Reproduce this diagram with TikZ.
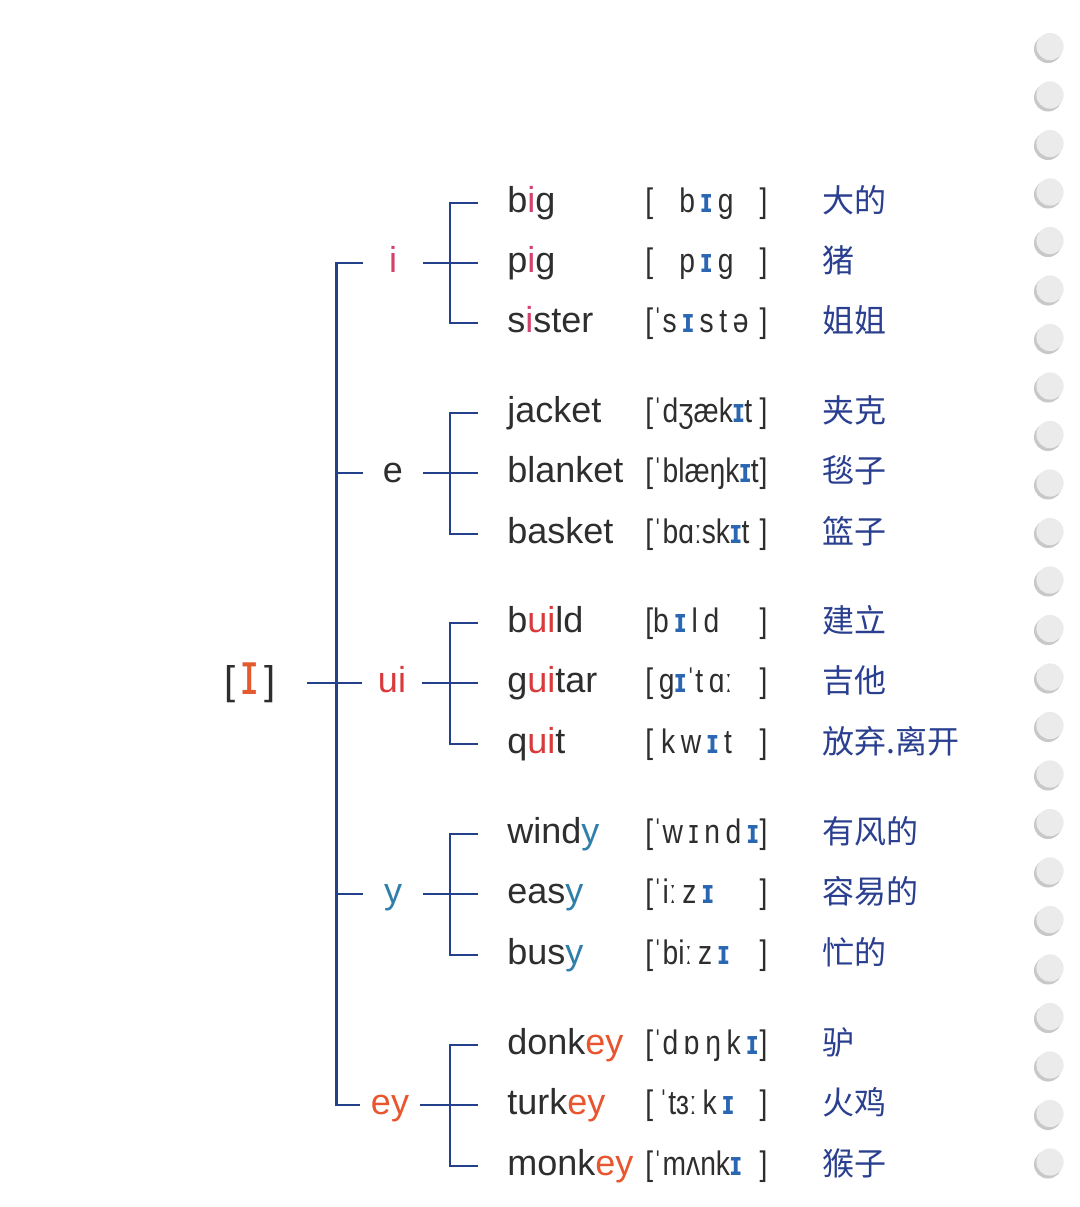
\documentclass[tikz,border=0pt]{standalone}
\usepackage{fontspec}
\setmainfont{Liberation Sans}
\newfontfamily\hanfont{Noto Sans CJK SC}
\newfontfamily\ipafont[FakeStretch=0.83]{Liberation Sans}
\usetikzlibrary{positioning}
\definecolor{TreeNavy}{HTML}{23408A}
\definecolor{Ink}{HTML}{2E2E2E}
\definecolor{SpellPink}{HTML}{D4416C}
\definecolor{SpellRed}{HTML}{D93A3C}
\definecolor{SpellTeal}{HTML}{2F7FAA}
\definecolor{SpellOrange}{HTML}{E8552E}
\definecolor{RootOrange}{HTML}{E35A2E}
\definecolor{VowBlue}{HTML}{2A66B2}
\definecolor{HanNavy}{HTML}{2A3F8F}
\definecolor{HoleGray}{HTML}{EBEBEB}
\definecolor{HoleShade}{HTML}{C8C8C8}
\newcommand\tint[2]{\textcolor{#1}{#2}}
\newcommand\vow{\textcolor{VowBlue}{\bfseries ɪ}}
\newcommand\ipabox[1]{\hbox to 61pt{[#1\hfil]}}

\begin{document}
\begin{tikzpicture}[x=0.5pt,y=-0.5pt,
    tree/.style={draw=TreeNavy,line width=1.2pt},
    sound/.style={minimum width=30pt,inner sep=0pt,font=\fontsize{18}{20}\selectfont,text height=13pt,text depth=4pt},
    word/.style={anchor=west,inner xsep=14.5pt,inner ysep=0pt,text=Ink,font=\fontsize{18}{20}\selectfont,text height=13pt,text depth=4pt},
    ipa/.style={anchor=west,inner sep=0pt,text=Ink,font=\ipafont\fontsize{17}{20}\selectfont,text height=12pt,text depth=3pt},
    han/.style={anchor=west,inner sep=0pt,text=HanNavy,font=\hanfont\fontsize{16}{18}\selectfont,text height=12pt,text depth=3pt}
  ]
  \fill[white] (0,0) rectangle (1080,1207);
  \useasboundingbox (0,0) rectangle (1080,1207);

  % notebook holes
  \foreach \k in {0,...,23}{
    \fill[HoleShade] (1048,49+48.5*\k) circle (7pt);
    \fill[HoleGray] (1050,46.5+48.5*\k) circle (6.8pt);
  }

  % root and sounds
  \node[minimum width=57pt,inner sep=0pt,text=Ink,font=\fontsize{20}{22}\selectfont] (root) at (250,683)
    {[\,\textcolor{RootOrange}{\scalebox{1.15}[1.5]{ɪ}}\,]};
  \node[sound,text=SpellPink] (sI) at (393,263) {i};
  \node[sound,text=Ink] (sE) at (393,473) {e};
  \node[sound,text=SpellRed] (sUI) at (392,683) {ui};
  \node[sound,text=SpellTeal] (sY) at (393,894) {y};
  \node[sound,text=SpellOrange] (sEY) at (390,1105) {ey};

  % group i
  \node[word] (big) at (478,203) {b\tint{SpellPink}{i}g};
  \node[ipa] (big-ipa) at (645,203) {\ipabox{\hfil b\,\vow\,g}};
  \node[han] (big-cn) at (822,203) {大的};
  \node[word] (pig) at (478,263) {p\tint{SpellPink}{i}g};
  \node[ipa] (pig-ipa) at (645,263) {\ipabox{\hfil p\,\vow\,g}};
  \node[han] (pig-cn) at (822,263) {猪};
  \node[word] (sister) at (478,323) {s\tint{SpellPink}{i}ster};
  \node[ipa] (sister-ipa) at (645,323) {\ipabox{ˈs\,\vow\,s\,t\,ə}};
  \node[han] (sister-cn) at (822,323) {姐姐};

  % group e
  \node[word] (jacket) at (478,413) {jacket};
  \node[ipa] (jacket-ipa) at (645,413) {\ipabox{ˈdʒæk\vow t}};
  \node[han] (jacket-cn) at (822,413) {夹克};
  \node[word] (blanket) at (478,473) {blanket};
  \node[ipa] (blanket-ipa) at (645,473) {\ipabox{ˈblæŋk\vow t}};
  \node[han] (blanket-cn) at (822,473) {毯子};
  \node[word] (basket) at (478,534) {basket};
  \node[ipa] (basket-ipa) at (645,534) {\ipabox{ˈbɑːsk\vow t}};
  \node[han] (basket-cn) at (822,534) {篮子};

  % group ui
  \node[word] (build) at (478,623) {b\tint{SpellRed}{ui}ld};
  \node[ipa] (build-ipa) at (645,623) {\ipabox{b\,\vow\,l\,d}};
  \node[han] (build-cn) at (822,623) {建立};
  \node[word] (guitar) at (478,683) {g\tint{SpellRed}{ui}tar};
  \node[ipa] (guitar-ipa) at (645,683) {\ipabox{\,g\vow ˈt\,ɑː}};
  \node[han] (guitar-cn) at (822,683) {吉他};
  \node[word] (quit) at (478,744) {q\tint{SpellRed}{ui}t};
  \node[ipa] (quit-ipa) at (645,744) {\ipabox{\ k\,w\,\vow\,t}};
  \node[han] (quit-cn) at (822,744) {放弃.离开};

  % group y
  \node[word] (windy) at (478,834) {wind\tint{SpellTeal}{y}};
  \node[ipa] (windy-ipa) at (645,834) {\ipabox{ˈw\,ɪ\,n\,d\,\vow}};
  \node[han] (windy-cn) at (822,834) {有风的};
  \node[word] (easy) at (478,894) {eas\tint{SpellTeal}{y}};
  \node[ipa] (easy-ipa) at (645,894) {\ipabox{ˈiː\,z\,\vow}};
  \node[han] (easy-cn) at (822,894) {容易的};
  \node[word] (busy) at (478,955) {bus\tint{SpellTeal}{y}};
  \node[ipa] (busy-ipa) at (645,955) {\ipabox{ˈbiː\,z\,\vow}};
  \node[han] (busy-cn) at (822,955) {忙的};

  % group ey
  \node[word] (donkey) at (478,1045) {donk\tint{SpellOrange}{ey}};
  \node[ipa] (donkey-ipa) at (645,1045) {\ipabox{ˈd\,ɒ\,ŋ\,k\,\vow}};
  \node[han] (donkey-cn) at (822,1045) {驴};
  \node[word] (turkey) at (478,1105) {turk\tint{SpellOrange}{ey}};
  \node[ipa] (turkey-ipa) at (645,1105) {\ipabox{\,ˈtɜː\,k\,\vow}};
  \node[han] (turkey-cn) at (822,1105) {火鸡};
  \node[word] (monkey) at (478,1166) {monk\tint{SpellOrange}{ey}};
  \node[ipa] (monkey-ipa) at (645,1166) {\ipabox{ˈmʌnk\vow}};
  \node[han] (monkey-cn) at (822,1166) {猴子};

  % trunk
  \draw[tree] (root.east) -- (sUI.west);
  \draw[tree] (sI.west) -- ++(-26,0) |- (sEY.west);
  \draw[tree] (sE.west) -- ++(-26,0);
  \draw[tree] (sY.west) -- ++(-26,0);

  % branches
  \draw[tree] (sI.east) -- (pig.west);
  \draw[tree] (big.west) -- ++(-28,0) |- (sister.west);
  \draw[tree] (sE.east) -- (blanket.west);
  \draw[tree] (jacket.west) -- ++(-28,0) |- (basket.west);
  \draw[tree] (sUI.east) -- (guitar.west);
  \draw[tree] (build.west) -- ++(-28,0) |- (quit.west);
  \draw[tree] (sY.east) -- (easy.west);
  \draw[tree] (windy.west) -- ++(-28,0) |- (busy.west);
  \draw[tree] (sEY.east) -- (turkey.west);
  \draw[tree] (donkey.west) -- ++(-28,0) |- (monkey.west);
\end{tikzpicture}
\end{document}
